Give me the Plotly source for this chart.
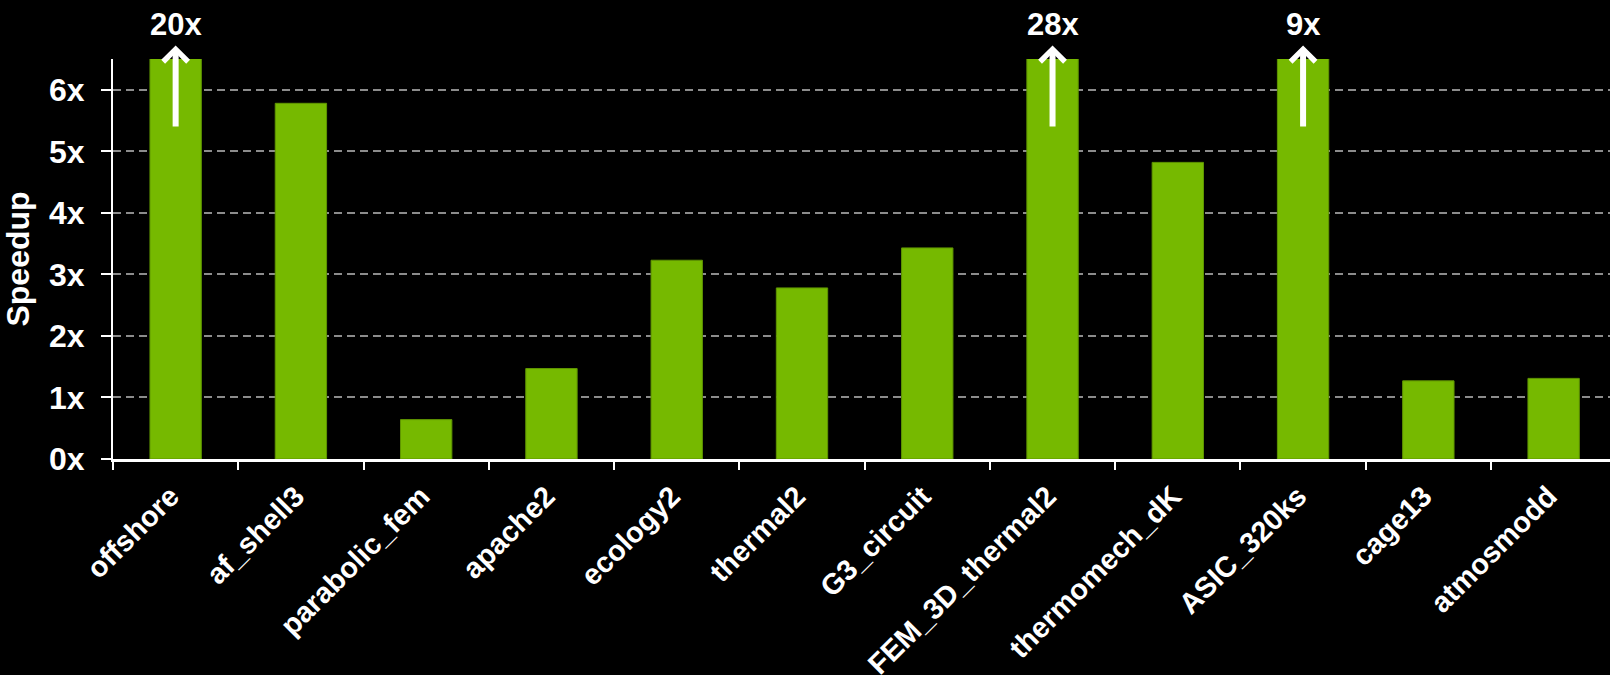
import plotly.graph_objects as go

categories = ["offshore", "af_shell3", "parabolic_fem", "apache2", "ecology2", "thermal2",
              "G3_circuit", "FEM_3D_thermal2", "thermomech_dK", "ASIC_320ks", "cage13", "atmosmodd"]
speedup = [20, 5.78, 0.64, 1.47, 3.23, 2.78, 3.43, 28, 4.82, 9, 1.27, 1.31]
y_tick_vals = [0, 1, 2, 3, 4, 5, 6]
y_tick_text = ["0x", "1x", "2x", "3x", "4x", "5x", "6x"]
y_max = 6.5

FONT = "Liberation Sans, Arial, Helvetica, sans-serif"
GREEN = "#76b900"

fig = go.Figure()
fig.add_trace(go.Bar(
    x=categories, y=speedup, width=0.41,
    marker=dict(color=GREEN, line=dict(color="#5f9500", width=1)),
    hoverinfo="x+y",
))

# arrows + labels for bars exceeding the axis
label_y_paper = 7.06 / y_max
for cat, val in zip(categories, speedup):
    if val > y_max:
        fig.add_annotation(x=cat, y=6.72, ax=cat, ay=5.38, axref="x", ayref="y",
                           xref="x", yref="y", text="", showarrow=True,
                           arrowhead=4, arrowwidth=6, arrowsize=0.8, arrowcolor="white",
                           standoff=0, startstandoff=0)
        fig.add_annotation(x=cat, y=label_y_paper, xref="x", yref="paper", text=f"{val:g}x",
                           showarrow=False, yanchor="middle",
                           font=dict(family=FONT, size=31, color="white", weight="bold"))

fig.update_layout(
    width=1610, height=675,
    paper_bgcolor="black", plot_bgcolor="black",
    margin=dict(l=113, r=0, t=59, b=216, autoexpand=False),
    showlegend=False, bargap=0.59,
    font=dict(family=FONT, color="white", weight="bold"),
)
fig.update_xaxes(
    type="category", range=[-0.5, 11.45], tickson="boundaries", automargin=False,
    ticks="outside", ticklen=8, tickwidth=2, tickcolor="white",
    showline=True, linecolor="white", linewidth=2.5,
    showgrid=False, tickangle=-45,
    ticklabelstandoff=6, ticklabelshift=-5,
    tickfont=dict(family=FONT, size=29, color="white", weight="bold"),
)
fig.update_yaxes(
    range=[0, y_max], tickvals=y_tick_vals, ticktext=y_tick_text, automargin=False,
    ticks="outside", ticklen=10, tickwidth=2, tickcolor="white",
    showline=True, linecolor="white", linewidth=2,
    showgrid=True, gridcolor="#8c8c8c", gridwidth=2, griddash="8px,5px",
    zeroline=False, ticklabelstandoff=10,
    tickfont=dict(family=FONT, size=32, color="white", weight="bold"),
    title=dict(text="Speedup", standoff=10,
               font=dict(family=FONT, size=32, color="white", weight="bold")),
)

fig.write_html("out.html", config={"displayModeBar": False},
               post_script="document.body.style.margin='0';document.body.style.background='black';")
